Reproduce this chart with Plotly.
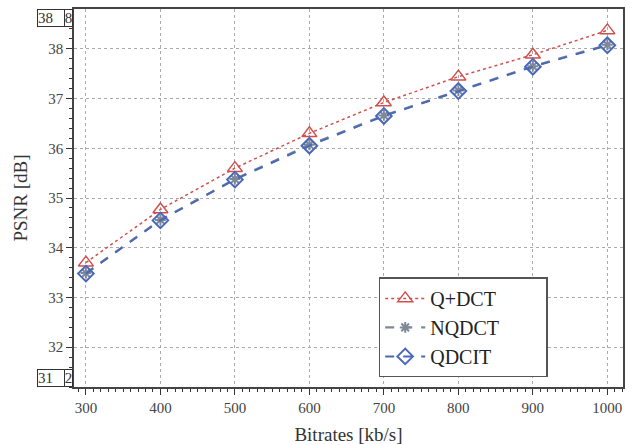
import plotly.graph_objects as go

bitrates = [300, 400, 500, 600, 700, 800, 900, 1000]
q_dct = [33.70, 34.77, 35.60, 36.30, 36.92, 37.44, 37.88, 38.37]
nqdct = [33.49, 34.56, 35.38, 36.07, 36.66, 37.16, 37.65, 38.08]
qdcit = [33.48, 34.55, 35.37, 36.05, 36.65, 37.15, 37.64, 38.07]
x_ticks = [300, 400, 500, 600, 700, 800, 900, 1000]
y_ticks = [32, 33, 34, 35, 36, 37, 38]
names = ["Q+DCT", "NQDCT", "QDCIT"]

RED = "#d0504d"
GRAY = "#7f8896"
BLUE = "#4a68b8"
FONT = "'Liberation Serif', 'Times New Roman', serif"
PAD = "\u00a0" * 9

fig = go.Figure()
fig.add_trace(go.Scatter(
    x=bitrates, y=q_dct, name=names[0] + PAD, mode="lines+markers",
    line=dict(color=RED, width=1.5, dash="dot"),
    marker=dict(symbol="triangle-up-open", size=13, color=RED, line=dict(width=1.5, color=RED)),
))
fig.add_trace(go.Scatter(
    x=bitrates, y=nqdct, name=names[1], mode="lines+markers",
    line=dict(color=GRAY, width=2.2, dash="dash"),
    marker=dict(symbol="asterisk-open", size=9, color=GRAY, line=dict(width=2, color=GRAY)),
))
fig.add_trace(go.Scatter(
    x=bitrates, y=qdcit, name=names[2], mode="lines+markers",
    line=dict(color=BLUE, width=2, dash="dash"),
    marker=dict(symbol="diamond-open", size=12, color=BLUE, line=dict(width=2, color=BLUE)),
))

fig.update_layout(
    width=642, height=445,
    margin=dict(l=74, r=19, t=9, b=58),
    paper_bgcolor="white", plot_bgcolor="white",
    font=dict(family=FONT, color="#333333"),
    showlegend=True,
    legend=dict(
        x=0.555, y=0.29, xanchor="left", yanchor="top",
        bgcolor="white", bordercolor="#555555", borderwidth=1.5,
        font=dict(family=FONT, size=20, color="#222222"),
        itemwidth=40, tracegroupgap=4,
    ),
    xaxis=dict(
        range=[284, 1021], tickvals=x_ticks, ticktext=[str(v) for v in x_ticks],
        ticks="outside", ticklen=6, tickcolor="#333333", tickwidth=1,
        minor=dict(dtick=10, tick0=300, ticks="outside", ticklen=3, tickcolor="#333333", showgrid=False),
        showgrid=True, gridcolor="#aaaaaa", griddash="3px,3px", gridwidth=1,
        showline=True, linecolor="#444444", linewidth=1.5, mirror=True,
        tickfont=dict(family=FONT, size=15, color="#444444"),
        title=dict(text="Bitrates [kb/s]", font=dict(family=FONT, size=19, color="#333333"), standoff=14),
        zeroline=False, automargin=False,
    ),
    yaxis=dict(
        range=[31.2, 38.8], tickvals=y_ticks, ticktext=[str(v) for v in y_ticks],
        ticks="outside", ticklen=6, tickcolor="#333333", tickwidth=1,
        minor=dict(dtick=0.2, tick0=31.2, ticks="outside", ticklen=3, tickcolor="#333333", showgrid=False),
        showgrid=True, gridcolor="#aaaaaa", griddash="3px,3px", gridwidth=1,
        showline=True, linecolor="#444444", linewidth=1.5, mirror=True,
        tickfont=dict(family=FONT, size=15, color="#444444"),
        title=dict(text="PSNR [dB]", font=dict(family=FONT, size=19, color="#333333"), standoff=16),
        zeroline=False, automargin=False,
    ),
)

# boxed axis-end labels (38.8 and 31.2)
for yv, a, b in [(38.8, "38", "8"), (31.2, "31", "2")]:
    fig.add_annotation(x=0, xref="paper", y=yv, yref="y", text=a, showarrow=False,
                       xanchor="right", xshift=-9, yanchor="top" if yv > 35 else "bottom",
                       font=dict(family=FONT, size=15, color="#333333"),
                       bordercolor="#333333", borderwidth=1, borderpad=0, width=26, align="left",
                       bgcolor="white")
    fig.add_annotation(x=0, xref="paper", y=yv, yref="y", text=b, showarrow=False,
                       xanchor="right", xshift=-1, yanchor="top" if yv > 35 else "bottom",
                       font=dict(family=FONT, size=15, color="#333333"),
                       bordercolor="#333333", borderwidth=1, borderpad=0, width=7,
                       bgcolor="white")

fig.write_html("out.html", config={"displayModeBar": False},
               post_script="document.body.style.margin='0';")
